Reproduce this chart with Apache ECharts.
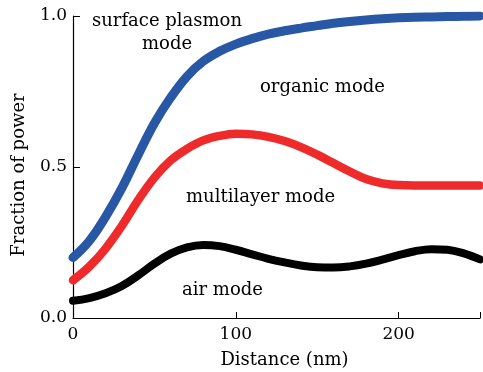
<!DOCTYPE html>
<html><head><meta charset="utf-8">
<script src="https://cdn.jsdelivr.net/npm/echarts@6/dist/echarts.min.js"></script>
<style>html,body{margin:0;padding:0;background:#fff}#c{width:483px;height:372px}</style>
</head><body><div id="c"></div>
<script>
const distance = [0,10,20,30,40,50,60,70,80,90,100,110,120,130,140,150,160,170,180,190,200,210,220,230,240,250];
const surfacePlasmon = [0.20,0.255,0.335,0.43,0.54,0.645,0.73,0.80,0.85,0.883,0.907,0.925,0.94,0.951,0.96,0.968,0.976,0.982,0.987,0.991,0.994,0.996,0.997,0.998,0.999,1.0];
const multilayer = [0.125,0.17,0.23,0.305,0.39,0.465,0.522,0.56,0.588,0.603,0.61,0.608,0.6,0.586,0.566,0.541,0.513,0.485,0.46,0.446,0.44,0.439,0.439,0.439,0.439,0.439];
const airMode = [0.057,0.066,0.082,0.106,0.141,0.18,0.213,0.234,0.242,0.238,0.226,0.211,0.196,0.184,0.174,0.168,0.167,0.171,0.18,0.193,0.208,0.221,0.228,0.226,0.214,0.194];
const xTicks = [0,100,200];
const yTicks = [0.0,0.5,1.0];
const font = 'DejaVu Serif';
const chart = echarts.init(document.getElementById('c'));
function pts(arr){ return distance.map((d,i)=>[d,arr[i]]); }
const tf = '18px "DejaVu Serif"';
chart.setOption({
  animation:false,
  grid:{left:73,right:2,top:16,bottom:54},
  xAxis:{type:'value',min:0,max:250,interval:100,
    axisLine:{lineStyle:{color:'#000',width:1.2}},
    axisTick:{inside:true,length:6,lineStyle:{color:'#000'}},
    axisLabel:{fontFamily:font,fontSize:17,color:'#000',margin:8,
      formatter:v=>xTicks.includes(v)?String(v):''},
    splitLine:{show:false}},
  yAxis:{type:'value',min:0,max:1,interval:0.5,
    axisLine:{show:true,lineStyle:{color:'#000',width:1.2}},
    axisTick:{show:true,inside:true,length:7,lineStyle:{color:'#000'}},
    axisLabel:{fontFamily:font,fontSize:17,color:'#000',margin:6,
      formatter:v=>yTicks.find(t=>Math.abs(t-v)<1e-9)!==undefined?v.toFixed(1):''},
    splitLine:{show:false}},
  series:[
    {type:'line',data:pts(airMode),smooth:0.4,symbol:'none',lineStyle:{color:'#000000',width:8,cap:'round'}},
    {type:'line',data:pts(multilayer),smooth:0.4,symbol:'none',lineStyle:{color:'#ee2a2a',width:8.5,cap:'round'}},
    {type:'line',data:pts(surfacePlasmon),smooth:0.4,symbol:'none',lineStyle:{color:'#2757a5',width:9,cap:'round'}}
  ],
  graphic:[
    {type:'text',x:92,y:21.5,style:{text:'surface plasmon',font:tf,fill:'#000',verticalAlign:'middle'}},
    {type:'text',x:142,y:44.5,style:{text:'mode',font:tf,fill:'#000',verticalAlign:'middle'}},
    {type:'text',x:260,y:87.5,style:{text:'organic mode',font:tf,fill:'#000',verticalAlign:'middle'}},
    {type:'text',x:186,y:197.5,style:{text:'multilayer mode',font:tf,fill:'#000',verticalAlign:'middle'}},
    {type:'text',x:182,y:290.5,style:{text:'air mode',font:tf,fill:'#000',verticalAlign:'middle'}},
    {type:'text',x:284.5,y:360,style:{text:'Distance (nm)',font:tf,fill:'#000',align:'center',verticalAlign:'middle'}},
    {type:'text',x:19.5,y:175,rotation:Math.PI/2,style:{text:'Fraction of power',font:tf,fill:'#000',align:'center',verticalAlign:'middle'}}
  ]
});
</script></body></html>
